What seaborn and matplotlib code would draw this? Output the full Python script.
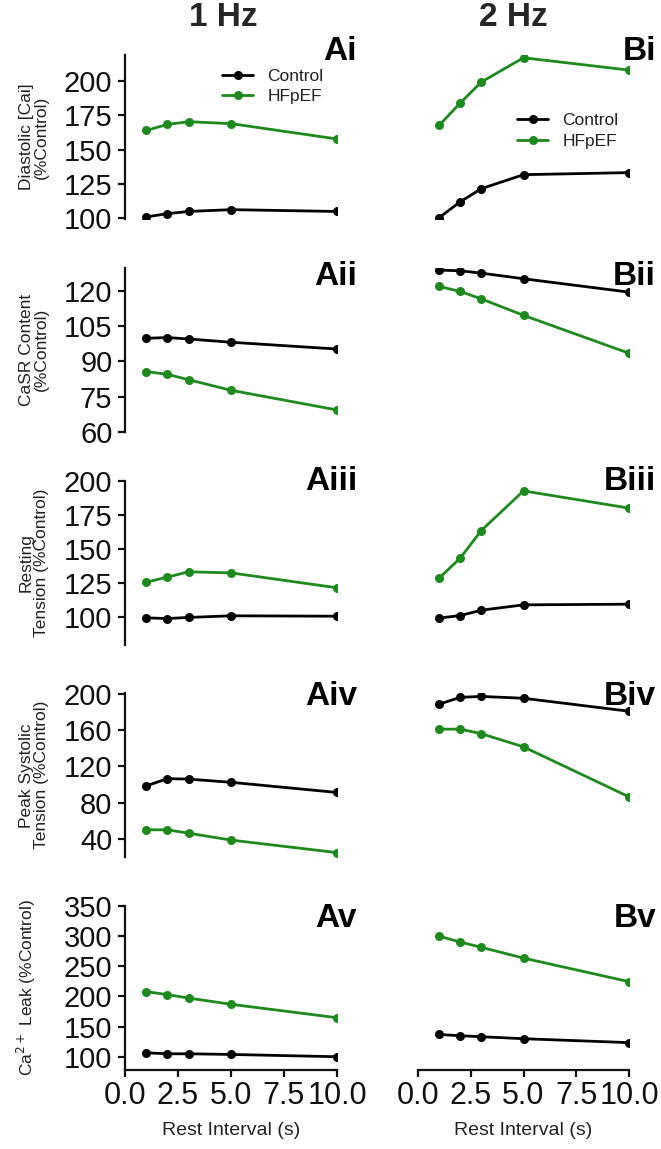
import matplotlib
matplotlib.use("Agg")
import matplotlib.pyplot as plt
import seaborn as sns
import pandas as pd

# ---------------- data ----------------
rest_interval = [1, 2, 3, 5, 10]
groups = ["Control", "HFpEF"]

ai_ctrl = [101, 103.4, 105, 106.3, 105]
ai_hf = [164, 168.4, 170.4, 169, 157.8]
bi_ctrl = [100.5, 112, 121.6, 131.8, 133.3]
bi_hf = [167.7, 184, 199.3, 217, 208]

aii_ctrl = [99.9, 100.2, 99.6, 98.2, 95.3]
aii_hf = [85.7, 84.5, 82.2, 77.7, 69.3]
bii_ctrl = [129, 128.7, 127.7, 125.3, 119.6]
bii_hf = [122, 119.9, 116.7, 109.7, 93.5]

aiii_ctrl = [99.5, 99, 99.8, 101, 100.7]
aiii_hf = [125.6, 129.3, 133.2, 132.4, 121.5]
biii_ctrl = [99.3, 101.2, 105.1, 109, 109.5]
biii_hf = [128.5, 143.2, 163.4, 192.4, 179.8]

aiv_ctrl = [98.5, 106.5, 106, 102.5, 91.3]
aiv_hf = [50.2, 50.2, 46.5, 38.9, 25.1]
biv_ctrl = [188.5, 196, 197, 195, 180.7]
biv_hf = [161, 161, 156, 141.5, 86.5]

av_ctrl = [106.5, 104.9, 104.9, 103.8, 100]
av_hf = [208, 203, 197.3, 187, 164.7]
bv_ctrl = [137, 134.8, 133.2, 129.9, 123.4]
bv_hf = [300, 290.2, 281.5, 263.6, 224.5]

row_ylabels = ["Diastolic [Cai]\n(%Control)",
               "CaSR Content\n(%Control)",
               "Resting\nTension (%Control)",
               "Peak Systolic\nTension (%Control)",
               "Ca$^{2+}$ Leak (%Control)"]
row_yticks = [[100, 125, 150, 175, 200],
              [60, 75, 90, 105, 120],
              [100, 125, 150, 175, 200],
              [40, 80, 120, 160, 200],
              [100, 150, 200, 250, 300, 350]]
row_ylims = [(99.5, 219), (60, 130), (80, 200), (20, 200.5), (78, 350)]
x_ticks = [0.0, 2.5, 5.0, 7.5, 10.0]
x_ticklabels = ["0.0", "2.5", "5.0", "7.5", "10.0"]
panel_labels_a = ["Ai", "Aii", "Aiii", "Aiv", "Av"]
panel_labels_b = ["Bi", "Bii", "Biii", "Biv", "Bv"]
col_titles = ["1 Hz", "2 Hz"]
xlabel = "Rest Interval (s)"

data_a = [(ai_ctrl, ai_hf), (aii_ctrl, aii_hf), (aiii_ctrl, aiii_hf),
          (aiv_ctrl, aiv_hf), (av_ctrl, av_hf)]
data_b = [(bi_ctrl, bi_hf), (bii_ctrl, bii_hf), (biii_ctrl, biii_hf),
          (biv_ctrl, biv_hf), (bv_ctrl, bv_hf)]

# ---------------- style ----------------
sns.set_theme(style="white")
plt.rcParams["font.family"] = ["Liberation Sans", "DejaVu Sans"]
palette = {"Control": "black", "HFpEF": "#1e8a1e"}

W, H = 661, 1149
fig = plt.figure(figsize=(W / 100, H / 100), dpi=100)

# axes rectangles in pixels
row_top0, row_pitch, row_h = 55, 212.75, 164
left_px = (125, 337)
right_px = (418, 629)

label_y = [0.97, 0.895, 0.94, 0.93, 0.87]


def make_df(ctrl, hf):
    return pd.DataFrame({
        "x": rest_interval * 2,
        "y": list(ctrl) + list(hf),
        "group": [groups[0]] * len(ctrl) + [groups[1]] * len(hf),
    })


def rect(cols, i):
    l, r = cols
    t = row_top0 + i * row_pitch
    b = t + row_h
    return [l / W, 1 - b / H, (r - l) / W, (b - t) / H]


for i in range(5):
    for j, (cols, dat, plab) in enumerate([(left_px, data_a[i], panel_labels_a[i]),
                                          (right_px, data_b[i], panel_labels_b[i])]):
        ax = fig.add_axes(rect(cols, i))
        df = make_df(*dat)
        sns.lineplot(data=df, x="x", y="y", hue="group", palette=palette,
                     marker="o", markersize=6.5, markeredgewidth=0, linewidth=2,
                     ax=ax, legend=(i == 0))
        ax.set_xlim(0, 10)
        ax.set_ylim(*row_ylims[i])
        ax.set_yticks(row_yticks[i])
        ax.set_xticks(x_ticks)
        for s in ["top", "right"]:
            ax.spines[s].set_visible(False)
        ax.spines["left"].set_visible(j == 0)
        ax.spines["bottom"].set_visible(i == 4)
        for s in ["left", "bottom"]:
            ax.spines[s].set_linewidth(1.6)
            ax.spines[s].set_color("#111111")
        ax.tick_params(axis="y", left=(j == 0), labelleft=(j == 0),
                       length=5, width=1.6, pad=4, colors="#111111")
        ax.tick_params(axis="x", bottom=(i == 4), labelbottom=(i == 4),
                       length=5, width=1.6, pad=3, colors="#111111")
        if j == 0:
            ax.set_yticklabels([str(t) for t in row_yticks[i]], fontsize=21)
            ax.set_ylabel(row_ylabels[i], fontsize=12.5, color="#222222",
                          multialignment="center", linespacing=1.0)
            ax.yaxis.set_label_coords(-0.36 if i < 4 else -0.41, 0.5)
        else:
            ax.set_ylabel("")
        if i == 4:
            ax.set_xticklabels(x_ticklabels, fontsize=22)
            ax.set_xlabel(xlabel, fontsize=14, color="#222222", labelpad=8)
        else:
            ax.set_xlabel("")
        xr = (357 - cols[0]) / (cols[1] - cols[0]) if j == 0 else (656 - cols[0]) / (cols[1] - cols[0])
        ax.text(xr, label_y[i], plab, transform=ax.transAxes, ha="right",
                va="baseline", fontsize=24, fontweight="bold", color="black")
        if i == 0:
            anchor = (0.458, 0.915) if j == 0 else (0.47, 0.645)
            leg = ax.legend(loc="upper left", bbox_to_anchor=anchor, frameon=False,
                            fontsize=12.5, handlelength=1.8, handletextpad=0.8,
                            labelspacing=0.3, borderpad=0, borderaxespad=0)
            for t in leg.get_texts():
                t.set_color("#222222")

for k, xc in enumerate([223, 513]):
    fig.text(xc / W, 1 - 18 / H, col_titles[k], ha="center", va="center",
             fontsize=24, fontweight="bold")

fig.savefig("out.png", dpi=100)
